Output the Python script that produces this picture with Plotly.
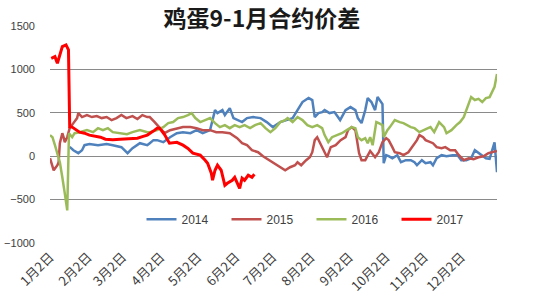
import pandas as pd
import plotly.graph_objects as go

title_text = "鸡蛋9-1月合约价差"
series_names = ["2014", "2015", "2016", "2017"]
tick_labels = ["1月2日", "2月2日", "3月2日", "4月2日", "5月2日", "6月2日",
               "7月2日", "8月2日", "9月2日", "10月2日", "11月2日", "12月2日"]
tick_dates = ["2017-01-02", "2017-02-02", "2017-03-02", "2017-04-02", "2017-05-02", "2017-06-02",
              "2017-07-02", "2017-08-02", "2017-09-02", "2017-10-02", "2017-11-02", "2017-12-02"]

# day-of-year positions and values for each contract year
days_2014 = [18, 21, 25, 28, 30, 34, 41, 48, 53, 60, 65, 69, 75, 81, 83, 86, 89, 94, 99.5, 105,
             110, 116, 121, 126, 132, 136, 138, 142, 144, 148, 151, 154, 158, 162, 167, 173, 178,
             183, 189, 194, 199, 203, 207, 212, 215, 217, 220, 223, 225, 229, 233, 237.6, 242, 246,
             250, 252, 255, 258, 260, 263, 266, 268, 270, 272, 273, 275, 277, 280, 284, 287, 291,
             295, 298, 300, 304, 307, 311, 313, 316, 320, 324, 329, 333, 336, 340, 344, 347, 350,
             353, 356, 359, 361, 363, 365]
vals_2014 = [107, 69, 35, 69, 127, 139, 127, 139, 127, 104, 35, 92, 150, 127, 150, 185, 185, 162,
             219, 265, 277, 265, 300, 265, 300, 531, 497, 531, 474, 554, 439, 416, 393, 439, 451,
             439, 393, 335, 393, 416, 439, 531, 624, 670, 647, 451, 497, 508, 531, 497, 508, 416,
             531, 566, 531, 439, 381, 531, 670, 624, 531, 681, 647, 600, -81, 12, 0, -23, 12, -69,
             -46, -46, -69, -104, -46, -81, -69, -104, -23, 12, 0, 12, 12, -46, -46, -23, 69, 35,
             12, -23, -30, 60, 160, -185]

days_2015 = [2, 4, 5, 8, 9, 10, 12, 13, 14, 16, 18, 21, 24, 25, 28, 32, 36, 40, 44, 48, 52, 56,
             60, 64, 69, 73, 77, 81, 83, 87, 91, 95, 99.5, 105, 110, 116, 121, 126, 132, 137, 142,
             148, 154, 158, 162, 166, 171, 175, 179, 183, 189, 193, 197, 201, 203, 206, 210, 213,
             215, 217, 219, 222, 225, 227, 230, 234, 238, 242, 244, 247, 250, 253, 255, 258, 262,
             266, 269, 272, 275, 277, 280, 282, 286, 289, 293, 296, 300, 302, 305, 307, 311, 313,
             316, 320, 323, 327, 331, 334, 338, 342, 346, 350, 354, 358, 362, 365]
vals_2015 = [-23, -127, -162, -104, -69, 150, 265, 219, 162, 219, 323, 381, 439, 497, 451, 474,
             451, 462, 439, 451, 416, 439, 474, 439, 462, 428, 474, 451, 451, 393, 335, 265, 300,
             323, 335, 335, 323, 300, 300, 277, 277, 265, 208, 150, 127, 69, 46, 0, -35, -69, -127,
             -162, -127, -104, -69, -104, -46, -12, 46, 185, 219, 127, 46, -12, 104, 127, 185, 219,
             300, 335, 300, 35, -46, -46, 60, -12, 46, 162, 208, 185, 104, 46, 35, 12, 46, 104, 185,
             243, 219, 185, 162, 150, 104, 92, 104, 69, 69, 12, -46, -23, -35, -12, 0, 35, 50, 60]

days_2016 = [2, 4, 6, 8, 8.5, 10, 12, 13, 14, 16, 16.6, 17.4, 20, 22, 26, 32, 37, 41, 45, 49,
             53, 59, 64.5, 69, 75, 81, 83, 89, 94, 98, 102, 106, 110, 114, 117, 120, 124, 128, 132,
             136, 140, 144, 148, 152, 156, 160, 164.5, 168.5, 173, 177, 181, 185, 189, 193, 195,
             199, 203, 207, 211, 215, 219, 223, 225, 228, 231, 235, 239, 243, 247, 250, 252, 255,
             258, 260, 262, 264, 266, 267, 269, 272, 273, 276, 278, 282, 286, 289, 295, 298, 302,
             305, 309, 311, 314, 318, 322, 324, 328, 332, 335, 338, 340, 342, 344, 347, 350, 353,
             356, 359, 361, 363, 365]
vals_2016 = [243, 219, 127, 35, -12, -69, -243, -358, -428, -624, -162, 265, 219, 265, 277, 300,
             277, 323, 300, 323, 277, 265, 254, 277, 300, 277, 277, 300, 335, 381, 393, 439, 451,
             474, 497, 439, 393, 416, 439, 381, 335, 358, 323, 358, 335, 358, 323, 358, 381, 323,
             277, 323, 393, 416, 439, 393, 451, 416, 358, 335, 358, 323, 243, 162, 219, 243, 265,
             300, 335, 323, 219, 185, 208, 150, 219, 127, 300, 393, 381, 358, 219, 300, 335, 416,
             393, 381, 335, 323, 277, 300, 323, 335, 277, 393, 335, 265, 300, 358, 393, 450, 520,
             600, 681, 647, 660, 624, 670, 681, 740, 800, 947]

days_2017 = [3, 6, 8, 10, 12, 15, 16, 17, 18, 20, 26, 30, 34, 38, 43, 47, 53, 59, 66, 73, 77, 81,
             87, 89, 91, 95, 99, 105, 110, 114, 118, 124, 128, 130, 133, 134, 136, 138, 141, 144,
             146, 150, 152, 154, 156, 158, 160, 163, 166, 168]
vals_2017 = [1128, 1147, 1070, 1167, 1262, 1282, 1247, 1224, 338, 335, 277, 265, 243, 235, 219,
             196, 190, 196, 200, 208, 225, 243, 300, 323, 323, 250, 150, 160, 127, 90, 35, 12, -46,
             -81, -196, -277, -162, -104, -162, -335, -312, -277, -243, -300, -370, -254, -277,
             -220, -243, -208]

colors = ["#4F81BD", "#C0504D", "#9BBB59", "#FF0000"]
widths = [2.5, 2.5, 2.5, 3]
all_days = [days_2014, days_2015, days_2016, days_2017]
all_vals = [vals_2014, vals_2015, vals_2016, vals_2017]

fig = go.Figure()
for name, d, v, c, w in zip(series_names, all_days, all_vals, colors, widths):
    fig.add_trace(go.Scatter(x=d, y=v, mode="lines", name=name,
                             line=dict(color=c, width=w)))

tick_vals = [pd.Timestamp(t).dayofyear for t in tick_dates]

fig.update_layout(
    width=550, height=300,
    margin=dict(l=50, r=53, t=26, b=57, autoexpand=False),
    paper_bgcolor="white", plot_bgcolor="white",
    font=dict(family="Liberation Sans, Arial, sans-serif", color="#404040", size=11),
    title=dict(text="<b>" + title_text + "</b>", x=0.474, xanchor="center",
               y=0.937, yanchor="middle", xref="paper", automargin=False,
               font=dict(family="Noto Sans CJK SC", size=23, color="#1a1a1a")),
    showlegend=True,
    legend=dict(orientation="h", x=0.585, xanchor="center", y=0.11, yanchor="middle",
                bgcolor="rgba(0,0,0,0)", font=dict(size=12, color="#404040"),
                entrywidth=40, entrywidthmode="pixels", itemwidth=30),
)
fig.update_xaxes(range=[2, 365], tickmode="array", tickvals=tick_vals, ticktext=tick_labels,
                 tickangle=-45, showgrid=False, zeroline=False, showline=False,
                 ticks="", ticklabelstandoff=3, automargin=False,
                 tickfont=dict(family="Noto Sans CJK SC", size=13, color="#404040"))
fig.update_yaxes(range=[-1000, 1500], dtick=500, tick0=0, showgrid=True,
                 gridcolor="#8a8a8a", gridwidth=1, zeroline=False, showline=False,
                 ticks="", ticklabelstandoff=14, automargin=False,
                 tickfont=dict(size=11, color="#404040"))

fig.write_html("out.html")
